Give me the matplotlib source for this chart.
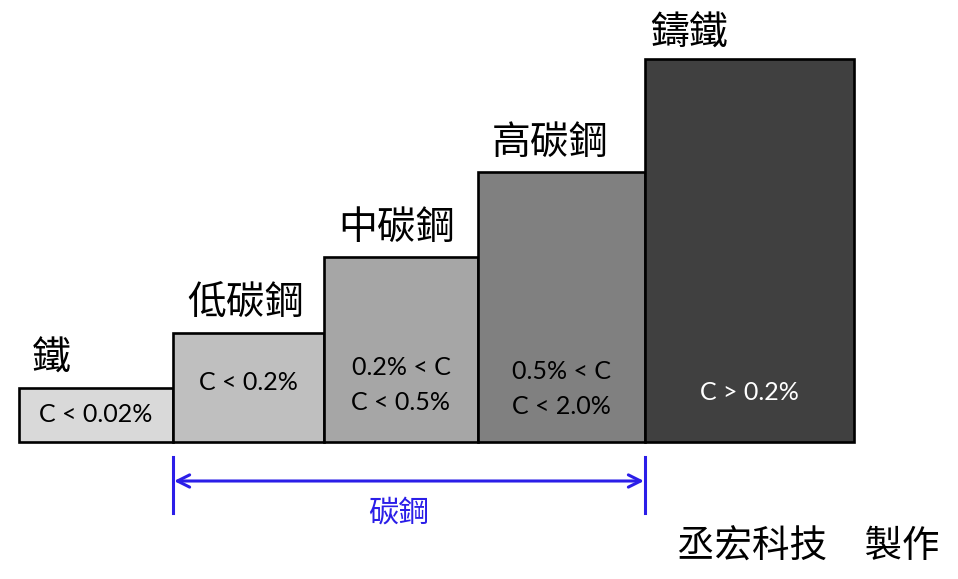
import numpy as np
import matplotlib.pyplot as plt

plt.rcParams['font.family'] = ['Noto Sans CJK TC', 'DejaVu Sans']

# steel types, bar heights (arbitrary units) and carbon ranges
names = ["鐵", "低碳鋼", "中碳鋼", "高碳鋼", "鑄鐵"]
heights = [54, 109, 185, 270, 383]
edges = [19, 173, 324, 478, 645, 854]
colors = ["#d9d9d9", "#bfbfbf", "#a6a6a6", "#808080", "#404040"]
ranges = ["C < 0.02%", "C < 0.2%", "0.2% < C\nC < 0.5%", "0.5% < C\nC < 2.0%", "C > 0.2%"]
range_colors = ["black", "black", "black", "black", "white"]
range_y = [27, 59, 57, 53, 50]
name_pad = [13, 14, 14, 14, 5]
name_gap = [9, 9, 9, 9, 5]
carbon_steel = ["低碳鋼", "中碳鋼", "高碳鋼"]
blue = "#2b1ee8"

fig = plt.figure(figsize=(9.58, 5.79), dpi=100)
ax = fig.add_axes([0, 0, 1, 1])
ax.set_xlim(0, 958)
ax.set_ylim(442 - 579, 442)
ax.axis("off")

left = np.array(edges[:-1])
width = np.diff(edges)
ax.bar(left, heights, width=width, align="edge", color=colors,
       edgecolor="black", linewidth=1.9, zorder=2)

for i in range(len(names)):
    ax.text(left[i] + name_pad[i], heights[i] + name_gap[i], names[i], fontsize=28,
            ha="left", va="bottom", color="black")
    ax.text(left[i] + width[i] / 2, range_y[i], ranges[i], fontsize=18,
            ha="center", va="center", color=range_colors[i],
            family=["Lato", "DejaVu Sans"], linespacing=1.65)

# carbon steel span
i0 = names.index(carbon_steel[0])
i1 = names.index(carbon_steel[-1]) + 1
x0, x1 = edges[i0], edges[i1]
ax.plot([x0, x0], [-15, -71], color=blue, lw=2.2)
ax.plot([x1, x1], [-15, -71], color=blue, lw=2.2)
ax.annotate("", xy=(x0 + 1, -39), xytext=(x1 - 1, -39),
            arrowprops=dict(arrowstyle="<->", color=blue, lw=2.2,
                            mutation_scale=22, shrinkA=0, shrinkB=0))
ax.text((x0 + x1) / 2 - 10, -71, "碳鋼", fontsize=22, color=blue,
        ha="center", va="center")

ax.text(940, -105, "丞宏科技　製作", fontsize=27, ha="right", va="center",
        color="black")

fig.savefig("out.png", dpi=100)
